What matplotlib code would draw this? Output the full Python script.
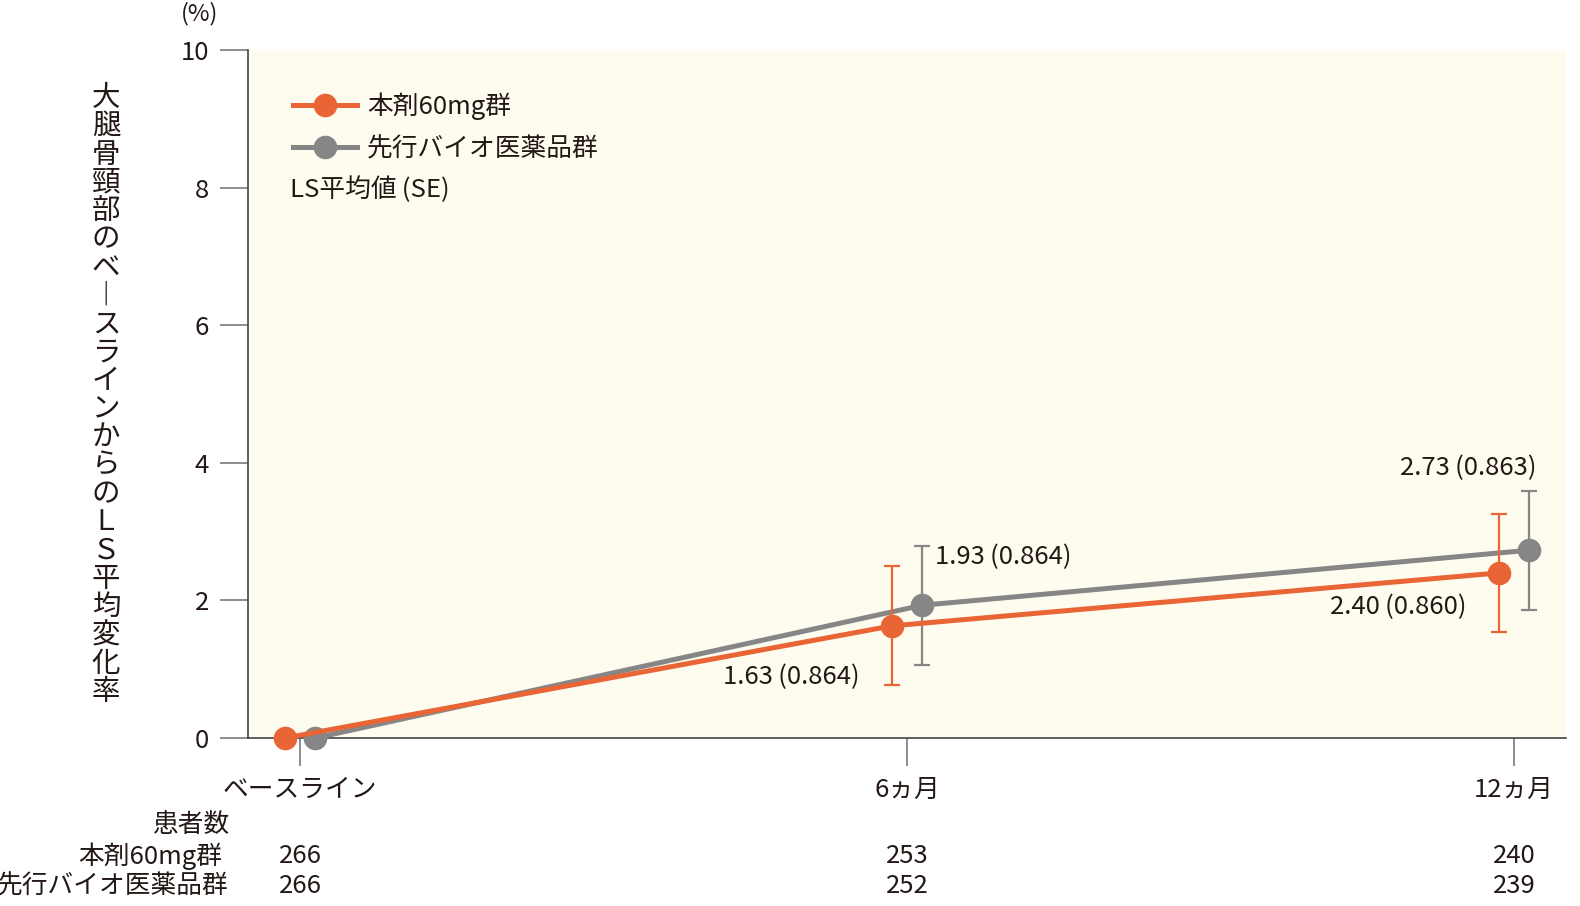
import matplotlib
matplotlib.use('Agg')
import matplotlib.pyplot as plt
from matplotlib.lines import Line2D

plt.rcParams['font.family'] = ['Noto Sans CJK JP', 'DejaVu Sans']

# data
months = [0, 6, 12]
x_labels = ['ベースライン', '6ヵ月', '12ヵ月']
drug_mean = [0, 1.63, 2.40]
drug_se = [0, 0.864, 0.860]
ref_mean = [0, 1.93, 2.73]
ref_se = [0, 0.864, 0.863]
drug_n = [266, 253, 240]
ref_n = [266, 252, 239]
drug_name = '本剤60mg群'
ref_name = '先行バイオ医薬品群'
y_title = '大腿骨頸部のベ︱スラインからのＬＳ平均変化率'

ORANGE = '#e96535'
GRAY = '#868686'
TXT = '#231815'
BG = '#fdfcef'

fig = plt.figure(figsize=(15.8, 9.06), dpi=100)
ax = fig.add_axes([0.157, 0.1854, 0.834, 0.7594])
ax.set_facecolor(BG)

off = 0.15
for means, ses, col, dx, z in [(ref_mean, ref_se, GRAY, off, 3),
                               (drug_mean, drug_se, ORANGE, -off, 4)]:
    xs = [m + dx for m in months]
    ax.plot(xs, means, color=col, lw=3.6, marker='o', ms=17,
            markeredgewidth=0, zorder=z, clip_on=False)
    ax.errorbar(xs[1:], means[1:], yerr=ses[1:], fmt='none', ecolor=col,
                elinewidth=1.6, capsize=5.5, capthick=1.6, zorder=z - 1)

ax.set_xlim(-0.514, 12.51)
ax.set_ylim(0, 10)
ax.set_yticks([0, 2, 4, 6, 8, 10])
ax.set_xticks(months)
ax.set_xticklabels(x_labels)
ax.tick_params(axis='y', length=20, width=1.2, color='#7a7a7a',
               labelsize=18.5, labelcolor=TXT, pad=8)
ax.tick_params(axis='x', length=20, width=1.2, color='#7a7a7a',
               labelsize=18.5, labelcolor=TXT, pad=8)
for s in ['top', 'right']:
    ax.spines[s].set_visible(False)
for s in ['left', 'bottom']:
    ax.spines[s].set_color('#444444')
    ax.spines[s].set_linewidth(1.2)

# value labels
fs = 18.5
ax.text(months[1] - 0.47, drug_mean[1] - 0.75,
        f'{drug_mean[1]:.2f}\u2009({drug_se[1]:.3f})',
        ha='right', va='center', fontsize=fs, color=TXT)
ax.text(months[1] + 0.28, ref_mean[1] + 0.7,
        f'{ref_mean[1]:.2f}\u2009({ref_se[1]:.3f})',
        ha='left', va='center', fontsize=fs, color=TXT)
ax.text(months[2] - 0.47, drug_mean[2] - 0.5,
        f'{drug_mean[2]:.2f}\u2009({drug_se[2]:.3f})',
        ha='right', va='center', fontsize=fs, color=TXT)
ax.text(months[2] - 0.45, ref_mean[2] + 1.2,
        f'{ref_mean[2]:.2f}\u2009({ref_se[2]:.3f})',
        ha='center', va='center', fontsize=fs, color=TXT)

# legend
handles = [Line2D([], [], color=ORANGE, lw=3.6, marker='o', ms=17, mew=0),
           Line2D([], [], color=GRAY, lw=3.6, marker='o', ms=17, mew=0)]
leg = ax.legend(handles, [drug_name, ref_name], loc='upper left',
                bbox_to_anchor=(0.026, 0.953), frameon=False, fontsize=fs,
                handlelength=2.5, handletextpad=0.4, labelspacing=0.62,
                borderaxespad=0)
for t in leg.get_texts():
    t.set_color(TXT)
ax.text(0.032, 0.797, 'LS平均値\u2009(SE)', transform=ax.transAxes,
        fontsize=fs, color=TXT, va='center', ha='left')

# unit
fig.text(200 / 1580, 1 - 14 / 906, '(%)', fontsize=17, color=TXT,
         ha='center', va='center')

# vertical y title
n = len(y_title)
y0, y1 = 98, 692
for i, ch in enumerate(y_title):
    yy = y0 + (y1 - y0) * i / (n - 1)
    fig.text(106 / 1580, 1 - yy / 906, ch, fontsize=20.5, color=TXT,
             ha='center', va='center')

# patient counts
fig.text(229 / 1580, 1 - 825 / 906, '患者数', fontsize=fs, color=TXT,
         ha='right', va='center')
fig.text(222 / 1580, 1 - 856 / 906, drug_name, fontsize=fs, color=TXT,
         ha='right', va='center')
fig.text(229 / 1580, 1 - 886 / 906, ref_name, fontsize=fs, color=TXT,
         ha='right', va='center')
for m, a, b in zip(months, drug_n, ref_n):
    xf = fig.transFigure.inverted().transform(ax.transData.transform((m, 0)))[0]
    fig.text(xf, 1 - 856 / 906, str(a), fontsize=fs, color=TXT,
             ha='center', va='center')
    fig.text(xf, 1 - 886 / 906, str(b), fontsize=fs, color=TXT,
             ha='center', va='center')

fig.savefig('out.png', dpi=100)
